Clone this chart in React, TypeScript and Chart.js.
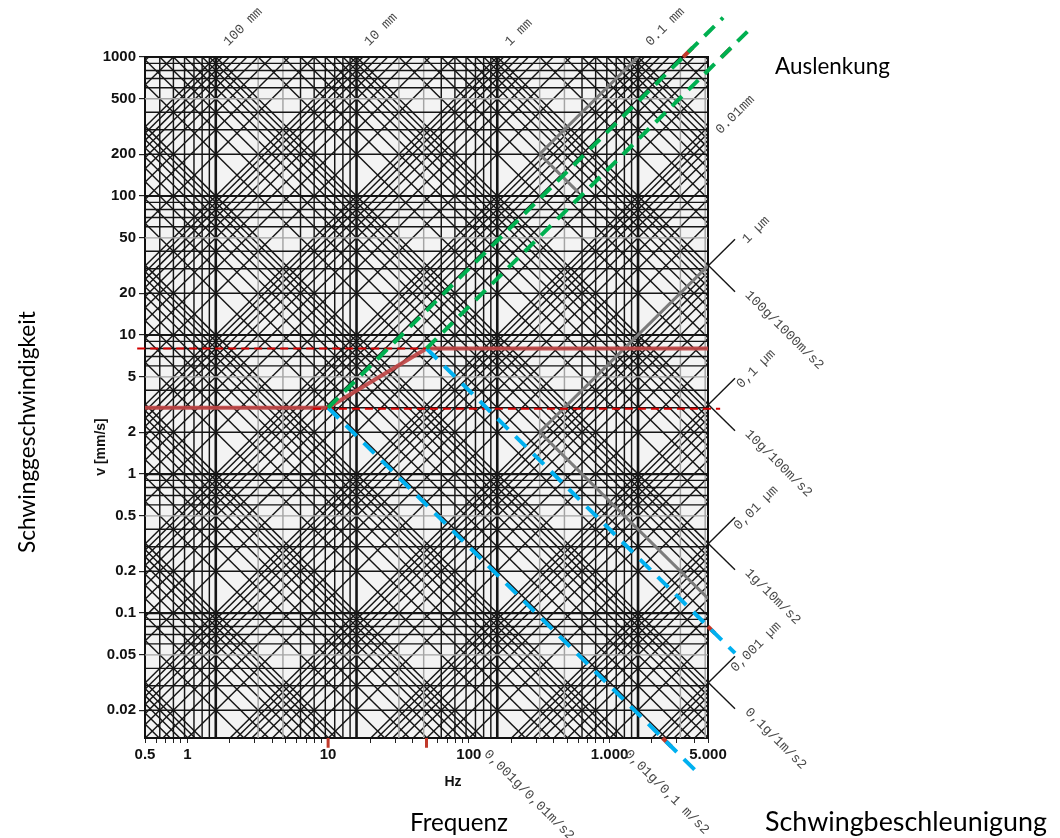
import React, { useEffect, useRef } from 'react';
import { Chart, registerables } from 'chart.js';

Chart.register(...registerables);

const TWO_PI = 2 * Math.PI;

// Axis ranges: frequency in Hz, vibration velocity in mm/s
const freqMin = 0.5;
const freqMax = 5000;
const velMin = 0.01262;
const velMax = 1000;

// Tick labels
const yTickValues = [1000, 500, 200, 100, 50, 20, 10, 5, 2, 1, 0.5, 0.2, 0.1, 0.05, 0.02];
const yTickLabels = ['1000', '500', '200', '100', '50', '20', '10', '5', '2', '1', '0.5', '0.2', '0.1', '0.05', '0.02'];
const xLabelValues = [0.5, 1, 10, 100, 1000, 5000];
const xLabelTexts = ['0.5', '1', '10', '100', '1.000', '5.000'];
const xTickDecades = [0.1, 1, 10, 100, 1000];

// Nomogram grid families
const gridMantissas = [1, 2, 3, 4, 5, 6, 7, 8, 9];
const velocityDecades = [0.01, 0.1, 1, 10, 100, 1000];
const angularDecades = [1, 10, 100, 1000, 10000]; // vertical lines at ω = m·10^n rad/s
const displacementDecades = [1e-7, 1e-6, 1e-5, 1e-4, 1e-3, 1e-2, 1e-1, 1, 10, 100]; // mm
const accelerationDecades = [1e-2, 1e-1, 1, 10, 1e2, 1e3, 1e4, 1e5, 1e6, 1e7]; // mm/s²

// Limit curve (mm/s over Hz)
const limitFreq = [0.5, 10, 50, 5000];
const limitVel = [3, 3, 8, 8];
const upperDashFreq = [0.44, 50];
const upperDashVel = 8;
const lowerDashFreq = [7.8, 6100];
const lowerDashVel = 2.95;

// Constant-displacement (green) and constant-acceleration (blue) guides from the limit corners
const cornerFreq = [10, 50];
const cornerVel = [3, 8];
const greenEndFreq = [6400, 10250];
const blueEndFreq = [4250, 7780];
const redEdgeGreenFreq = [[3333, 3900], [6250, 7200]];
const redEdgeBlueFreq = [[2377, 2750], [5000, 5600]];
const redAxisMarkFreq = [10, 50];

// Highlighted lines starting at ω = 2000 rad/s
const highlightFreq = 2000 / TWO_PI;
const highlightDisp = [0.1, 0.001];
const highlightDispEndFreq = [1591.5, 5000];
const highlightAcc = [400000, 4000];
const highlightAccEndFreq = [600, 5000];

// Decade marks beyond the right edge
const edgeMarkDisp = [1e-3, 1e-4, 1e-5, 1e-6];
const edgeMarkAcc = [1e6, 1e5, 1e4, 1e3];
const edgeMarkEndFreq = 7780;

// Scale captions
const topDispValues = [100, 10, 1, 0.1];
const topDispTexts = ['100 mm', '10 mm', '1 mm', '0.1 mm'];
const rightDispValue = 0.01;
const rightDispText = '0.01mm';
const microTexts = ['1 µm', '0,1 µm', '0,01 µm', '0,001 µm'];
const accTexts = ['100g/1000m/s2', '10g/100m/s2', '1g/10m/s2', '0,1g/1m/s2'];
const bottomAccValues = [10, 100];
const bottomAccTexts = ['0,001g/0,01m/s2', '0,01g/0,1 m/s2'];

type Pt = { x: number; y: number };

function lineSet(points: Pt[], color: string, width: number, order: number, extra: Record<string, unknown> = {}) {
  return {
    type: 'line' as const,
    data: points,
    borderColor: color,
    borderWidth: width,
    pointRadius: 0,
    pointHoverRadius: 0,
    fill: false,
    tension: 0,
    order,
    ...extra,
  };
}

const GRID_DARK = '#151515';
const GRID_LIGHT = '#a4a4a4';
const GRID_W = 1.45;

function buildDatasets() {
  const sets: any[] = [];

  // horizontal velocity lines
  velocityDecades.forEach((dec) => {
    gridMantissas.forEach((m) => {
      const v = m * dec;
      if (v < velMin || v > velMax) return;
      const color = m === 5 ? GRID_LIGHT : GRID_DARK;
      const w = m === 1 ? 2.2 : GRID_W;
      sets.push(lineSet([{ x: freqMin, y: v }, { x: freqMax, y: v }], color, w, 20));
    });
  });

  // vertical frequency lines
  angularDecades.forEach((dec) => {
    gridMantissas.forEach((m) => {
      const f = (m * dec) / TWO_PI;
      if (f < freqMin || f > freqMax) return;
      const color = m === 2 || m === 3 ? GRID_LIGHT : GRID_DARK;
      const w = m === 1 ? 2.6 : GRID_W;
      sets.push(lineSet([{ x: f, y: velMin }, { x: f, y: velMax }], color, w, 20));
    });
  });

  // constant displacement lines: v = 2πf·d
  displacementDecades.forEach((dec) => {
    gridMantissas.forEach((m) => {
      const d = m * dec;
      const lo = Math.max(freqMin, velMin / (TWO_PI * d));
      const hi = Math.min(freqMax, velMax / (TWO_PI * d));
      if (lo >= hi) return;
      sets.push(lineSet([{ x: lo, y: TWO_PI * lo * d }, { x: hi, y: TWO_PI * hi * d }], GRID_DARK, GRID_W, 20));
    });
  });

  // constant acceleration lines: v = a / (2πf)
  accelerationDecades.forEach((dec) => {
    gridMantissas.forEach((m) => {
      const a = m * dec;
      const lo = Math.max(freqMin, a / (TWO_PI * velMax));
      const hi = Math.min(freqMax, a / (TWO_PI * velMin));
      if (lo >= hi) return;
      sets.push(lineSet([{ x: lo, y: a / (TWO_PI * lo) }, { x: hi, y: a / (TWO_PI * hi) }], GRID_DARK, GRID_W, 20));
    });
  });

  // decade marks beyond the right edge
  edgeMarkDisp.forEach((d) => {
    sets.push(lineSet([{ x: freqMax, y: TWO_PI * freqMax * d }, { x: edgeMarkEndFreq, y: TWO_PI * edgeMarkEndFreq * d }], GRID_DARK, 1.4, 20, { clip: false }));
  });
  edgeMarkAcc.forEach((a) => {
    sets.push(lineSet([{ x: freqMax, y: a / (TWO_PI * freqMax) }, { x: edgeMarkEndFreq, y: a / (TWO_PI * edgeMarkEndFreq) }], GRID_DARK, 1.4, 20, { clip: false }));
  });

  // highlighted gray lines
  highlightDisp.forEach((d, i) => {
    sets.push(lineSet([{ x: highlightFreq, y: TWO_PI * highlightFreq * d }, { x: highlightDispEndFreq[i], y: TWO_PI * highlightDispEndFreq[i] * d }], '#7c7c7c', 3, 8));
  });
  highlightAcc.forEach((a, i) => {
    sets.push(lineSet([{ x: highlightFreq, y: a / (TWO_PI * highlightFreq) }, { x: highlightAccEndFreq[i], y: a / (TWO_PI * highlightAccEndFreq[i]) }], '#7c7c7c', 3, 8));
  });

  // red marks where the guides leave the plot
  redEdgeGreenFreq.forEach((pair, i) => {
    sets.push(lineSet(pair.map((f) => ({ x: f, y: (cornerVel[i] * f) / cornerFreq[i] })), '#c0392b', 4, 4, { clip: false }));
  });
  redEdgeBlueFreq.forEach((pair, i) => {
    sets.push(lineSet(pair.map((f) => ({ x: f, y: (cornerVel[i] * cornerFreq[i]) / f })), '#c0392b', 4, 4, { clip: false }));
  });
  redAxisMarkFreq.forEach((f) => {
    sets.push(lineSet([{ x: f, y: velMin }, { x: f, y: velMin * 0.85 }], '#c0392b', 3, 4, { clip: false }));
  });

  // limit curve
  sets.push(lineSet(limitFreq.map((f, i) => ({ x: f, y: limitVel[i] })), 'rgba(192,70,70,0.92)', 4, 3, { clip: false }));
  sets.push(lineSet(upperDashFreq.map((f) => ({ x: f, y: upperDashVel })), '#d40000', 2, 2, { clip: false, borderDash: [8, 5] }));
  sets.push(lineSet(lowerDashFreq.map((f) => ({ x: f, y: lowerDashVel })), '#d40000', 2, 2, { clip: false, borderDash: [8, 5] }));

  // green constant-displacement guides
  cornerFreq.forEach((f0, i) => {
    const v0 = cornerVel[i];
    const f1 = greenEndFreq[i];
    sets.push(lineSet([{ x: f0, y: v0 }, { x: f1, y: (v0 * f1) / f0 }], '#00b050', 4, 1, { clip: false, borderDash: [14, 9] }));
  });
  // blue constant-acceleration guides
  cornerFreq.forEach((f0, i) => {
    const v0 = cornerVel[i];
    const f1 = blueEndFreq[i];
    sets.push(lineSet([{ x: f0, y: v0 }, { x: f1, y: (v0 * f0) / f1 }], '#00b0f0', 4, 1, { clip: false, borderDash: [15, 10] }));
  });

  return sets;
}

const xTickValues: number[] = [];
xTickDecades.forEach((dec) => {
  gridMantissas.forEach((m) => {
    const v = m * dec;
    if (v >= freqMin - 1e-9 && v <= freqMax + 1e-9) xTickValues.push(v);
  });
});

function labelFor(values: number[], texts: string[], v: number) {
  const i = values.findIndex((t) => Math.abs(t - v) / t < 1e-6);
  return i >= 0 ? texts[i] : '';
}

function drawRotated(ctx: CanvasRenderingContext2D, text: string, x: number, y: number, angle: number, align: CanvasTextAlign) {
  ctx.save();
  ctx.translate(x, y);
  ctx.rotate(angle);
  ctx.textAlign = align;
  ctx.textBaseline = 'middle';
  ctx.fillText(text, 0, 0);
  ctx.restore();
}

function fitFont(ctx: CanvasRenderingContext2D, text: string, width: number, family: string) {
  ctx.font = `100px ${family}`;
  const w = ctx.measureText(text).width;
  ctx.font = `${(100 * width) / w}px ${family}`;
}

const MONO = '"Liberation Mono", "DejaVu Sans Mono", monospace';
const CAPTION = 'Lato, "Open Sans", sans-serif';
const AXIS_FONT = '"Liberation Sans", Arial, sans-serif';

const nomogramPlugin = {
  id: 'nomogramDecor',
  beforeDraw(chart: any) {
    const { ctx, chartArea: a } = chart;
    ctx.save();
    ctx.fillStyle = '#ffffff';
    ctx.fillRect(0, 0, chart.width, chart.height);
    ctx.fillStyle = '#f3f3f3';
    ctx.fillRect(a.left, a.top, a.right - a.left, a.bottom - a.top);
    ctx.restore();
  },
  beforeDatasetsDraw(chart: any) {
    const { ctx, chartArea: a } = chart;
    ctx.save();
    ctx.strokeStyle = '#111';
    ctx.lineWidth = 2;
    ctx.strokeRect(a.left, a.top, a.right - a.left, a.bottom - a.top);
    ctx.restore();
  },
  afterDraw(chart: any) {
    const { ctx, chartArea: a } = chart;
    const xs = chart.scales.x;
    const ys = chart.scales.y;
    const px = (f: number) => xs.getPixelForValue(f);
    const py = (v: number) => ys.getPixelForValue(v);
    const up = -Math.PI / 4;
    const down = Math.PI / 4;

    ctx.save();
    ctx.fillStyle = '#4a4a4a';
    ctx.font = `13.5px ${MONO}`;

    topDispValues.forEach((d, i) => {
      const f = velMax / (TWO_PI * d);
      drawRotated(ctx, topDispTexts[i], px(f) + 10, a.top - 13, up, 'left');
    });

    const vRight = TWO_PI * freqMax * rightDispValue;
    drawRotated(ctx, rightDispText, a.right + 10, py(vRight) + 5, up, 'left');

    edgeMarkDisp.forEach((d, i) => {
      const yMark = py(TWO_PI * freqMax * d);
      drawRotated(ctx, microTexts[i], a.right + 48, yMark - 36, up, 'center');
      drawRotated(ctx, accTexts[i], a.right + 39, yMark + 27, down, 'left');
    });

    bottomAccValues.forEach((acc, i) => {
      const f = acc / (TWO_PI * velMin);
      drawRotated(ctx, bottomAccTexts[i], px(f) + 3, a.bottom + 14, down, 'left');
    });

    // axis units
    ctx.fillStyle = '#111';
    ctx.font = `bold 14px ${AXIS_FONT}`;
    ctx.textAlign = 'center';
    ctx.textBaseline = 'middle';
    ctx.fillText('Hz', 453, 782);
    drawRotated(ctx, 'v [mm/s]', 101, 447, -Math.PI / 2, 'center');

    // quantity captions
    ctx.fillStyle = '#000';
    ctx.textAlign = 'left';
    ctx.textBaseline = 'alphabetic';
    fitFont(ctx, 'Auslenkung', 115, CAPTION);
    ctx.fillText('Auslenkung', 775, 74);
    fitFont(ctx, 'Frequenz', 98, CAPTION);
    ctx.fillText('Frequenz', 410, 831);
    fitFont(ctx, 'Schwingbeschleunigung', 282, CAPTION);
    ctx.fillText('Schwingbeschleunigung', 765, 831);
    ctx.save();
    ctx.translate(35, 553);
    ctx.rotate(-Math.PI / 2);
    fitFont(ctx, 'Schwinggeschwindigkeit', 242, CAPTION);
    ctx.fillText('Schwinggeschwindigkeit', 0, 0);
    ctx.restore();

    ctx.restore();
  },
};

export default function App() {
  const canvasRef = useRef<HTMLCanvasElement>(null);

  useEffect(() => {
    if (!canvasRef.current) return;
    const chart = new Chart(canvasRef.current, {
      type: 'line',
      data: { datasets: buildDatasets() },
      options: {
        animation: false,
        responsive: false,
        events: [],
        layout: { padding: { left: 0, top: 57, right: 352, bottom: 0 } },
        plugins: { legend: { display: false }, tooltip: { enabled: false } },
        scales: {
          x: {
            type: 'logarithmic',
            min: freqMin,
            max: freqMax,
            afterBuildTicks: (axis: any) => {
              axis.ticks = xTickValues.map((v) => ({ value: v }));
            },
            afterFit: (axis: any) => {
              axis.height = 100;
            },
            ticks: {
              autoSkip: false,
              maxRotation: 0,
              minRotation: 0,
              padding: 3,
              color: '#111',
              font: { family: AXIS_FONT, size: 15, weight: 'bold' },
              callback: (v: any) => labelFor(xLabelValues, xLabelTexts, Number(v)),
            },
            grid: { drawOnChartArea: false, drawTicks: true, tickLength: 5, color: '#222', lineWidth: 1 },
            border: { display: true, color: '#111', width: 2 },
          },
          y: {
            type: 'logarithmic',
            min: velMin,
            max: velMax,
            afterBuildTicks: (axis: any) => {
              axis.ticks = yTickValues.map((v) => ({ value: v }));
            },
            afterFit: (axis: any) => {
              axis.width = 145;
            },
            ticks: {
              autoSkip: false,
              padding: 3,
              color: '#111',
              font: { family: AXIS_FONT, size: 15, weight: 'bold' },
              callback: (v: any) => labelFor(yTickValues, yTickLabels, Number(v)),
            },
            grid: { drawOnChartArea: false, drawTicks: true, tickLength: 6, color: '#222', lineWidth: 1.2 },
            border: { display: true, color: '#111', width: 2 },
          },
        },
      } as any,
      plugins: [nomogramPlugin],
    });
    return () => chart.destroy();
  }, []);

  return (
    <div style={{ position: 'absolute', left: 0, top: 0, width: 1060, height: 838, background: '#fff' }}>
      <canvas ref={canvasRef} width={1060} height={838} style={{ display: 'block', width: 1060, height: 838 }} />
    </div>
  );
}
